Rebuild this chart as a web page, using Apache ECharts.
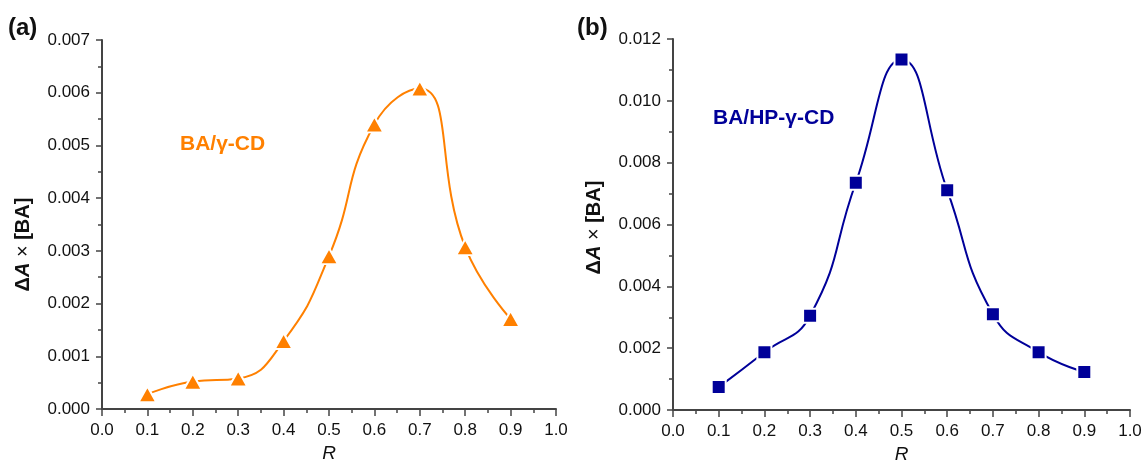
<!DOCTYPE html>
<html>
<head>
<meta charset="utf-8">
<script src="https://cdn.jsdelivr.net/npm/echarts@6/dist/echarts.min.js"></script>
<style>
  html, body { margin: 0; padding: 0; background: #fff; }
  #main { width: 1143px; height: 461px; }
</style>
</head>
<body>
<div id="main"></div>
<script>
// 横坐标 R
const rValues = [0.1, 0.2, 0.3, 0.4, 0.5, 0.6, 0.7, 0.8, 0.9]
// (a) BA/γ-CD
const dataGammaCD = [0.00028, 0.00052, 0.00058, 0.00129, 0.0029, 0.0054, 0.00608, 0.00307, 0.00171]
// (b) BA/HP-γ-CD
const dataHPGammaCD = [0.00074, 0.00187, 0.00305, 0.00735, 0.01134, 0.00711, 0.0031, 0.00187, 0.00123]

const orange = '#ff8000'
const navy = '#000099'
const axisColor = '#444'
const font = 'Liberation Sans, Arial, sans-serif'

function pairs(ys) {
  return rValues.map(function (x, i) { return [x, ys[i]] })
}

function xAxisOf(idx) {
  return {
    gridIndex: idx,
    type: 'value',
    min: 0, max: 1, interval: 0.1,
    name: 'R',
    nameLocation: 'middle',
    nameGap: 35,
    nameTextStyle: { fontFamily: font, fontSize: 19, fontStyle: 'italic', color: '#111' },
    axisLine: { show: true, onZero: false, lineStyle: { color: axisColor, width: 2 } },
    axisTick: { show: true, length: 7, lineStyle: { color: axisColor, width: 1.5 } },
    minorTick: { show: true, splitNumber: 2, length: 4, lineStyle: { color: axisColor, width: 1.5 } },
    splitLine: { show: false },
    axisLabel: {
      margin: 13, fontFamily: font, fontSize: 17, color: '#111',
      formatter: function (v) { return v.toFixed(1) }
    }
  }
}

function yAxisOf(idx, max, step, pad) {
  return {
    gridIndex: idx,
    type: 'value',
    min: 0, max: max, interval: step,
    name: '{b|Δ}{i|A}{n| × }{b|[BA]}',
    nameLocation: 'middle',
    nameGap: 69,
    nameTextStyle: {
      padding: pad,
      rich: {
        b: { fontFamily: font, fontSize: 20, fontWeight: 'bold', color: '#111' },
        i: { fontFamily: font, fontSize: 20, fontWeight: 'bold', fontStyle: 'italic', color: '#111' },
        n: { fontFamily: font, fontSize: 20, color: '#111' }
      }
    },
    axisLine: { show: true, onZero: false, lineStyle: { color: axisColor, width: 2 } },
    axisTick: { show: true, length: 6, lineStyle: { color: axisColor, width: 1.5 } },
    minorTick: { show: true, splitNumber: 2, length: 4, lineStyle: { color: axisColor, width: 1.5 } },
    splitLine: { show: false },
    axisLabel: {
      margin: 12, fontFamily: font, fontSize: 17, color: '#111',
      formatter: function (v) { return v.toFixed(3) }
    }
  }
}

const chart = echarts.init(document.getElementById('main'))
const option = {
  animation: false,
  backgroundColor: '#fff',
  grid: [
    { left: 102, top: 40, width: 454, height: 369, outerBoundsMode: 'none' },
    { left: 673, top: 39, width: 457, height: 371, outerBoundsMode: 'none' }
  ],
  xAxis: [xAxisOf(0), xAxisOf(1)],
  yAxis: [
    yAxisOf(0, 0.007, 0.001, [0, 40, 0, 0]),
    yAxisOf(1, 0.012, 0.002, [0, 6, 0, 0])
  ],
  graphic: [
    { type: 'text', left: 8, top: 16, style: { text: '(a)', font: 'bold 24px ' + font, fill: '#111' } },
    { type: 'text', left: 577, top: 16, style: { text: '(b)', font: 'bold 24px ' + font, fill: '#111' } },
    { type: 'text', left: 180, top: 134, style: { text: 'BA/γ-CD', font: 'bold 21px ' + font, fill: orange } },
    { type: 'text', left: 713, top: 108, style: { text: 'BA/HP-γ-CD', font: 'bold 21px ' + font, fill: navy } }
  ],
  series: [
    {
      name: 'BA/γ-CD',
      type: 'line',
      xAxisIndex: 0, yAxisIndex: 0,
      data: pairs(dataGammaCD),
      smooth: 0.5,
      symbol: 'triangle',
      symbolSize: [18, 16],
      lineStyle: { color: orange, width: 2 },
      itemStyle: { color: orange, borderColor: '#fff', borderWidth: 2 }
    },
    {
      name: 'BA/HP-γ-CD',
      type: 'line',
      xAxisIndex: 1, yAxisIndex: 1,
      data: pairs(dataHPGammaCD),
      smooth: 0.5,
      symbol: 'rect',
      symbolSize: 14,
      lineStyle: { color: navy, width: 2 },
      itemStyle: { color: navy, borderColor: '#fff', borderWidth: 2 }
    }
  ]
}
chart.setOption(option)
</script>
</body>
</html>
